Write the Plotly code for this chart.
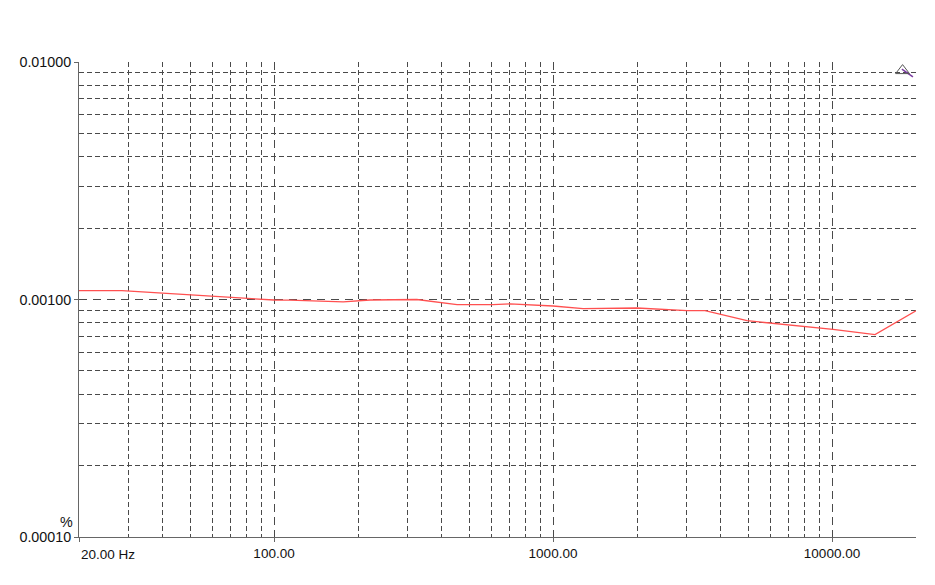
import plotly.graph_objects as go

# Data (frequency in Hz, THD+N in %)
freq = [20, 28.5, 100, 114, 177, 221, 325, 453, 609, 701, 1000, 1281, 2000, 3022, 3506, 4960, 10080, 14260, 20000]
thd = [0.001089, 0.00109, 0.000995, 0.000993, 0.000977, 0.000995, 0.001, 0.000951, 0.000951, 0.000958,
       0.000939, 0.000915, 0.000921, 0.000897, 0.000897, 0.000814, 0.000749, 0.000711, 0.000897]

x_tickvals = [20, 100, 1000, 10000]
x_ticktext = ["", "100.00", "1000.00", "10000.00"]
x_first_label = "20.00 Hz"
x_minor = [30, 40, 50, 60, 70, 80, 90, 200, 300, 400, 500, 600, 700, 800, 900,
           2000, 3000, 4000, 5000, 6000, 7000, 8000, 9000, 20000]
y_tickvals = [0.0001, 0.001, 0.01]
y_ticktext = ["0.00010", "0.00100", "0.01000"]
y_minor = [0.0002, 0.0003, 0.0004, 0.0005, 0.0006, 0.0007, 0.0008, 0.0009,
           0.002, 0.003, 0.004, 0.005, 0.006, 0.007, 0.008, 0.009]

cursor_x = [17900]
cursor_y = [0.0092]
cursor_tail_x = [17800, 19500]
cursor_tail_y = [0.00934, 0.00865]

GRID = "#4a4a4a"
XFONT = dict(family="Liberation Sans, Arial, sans-serif", size=13.5, color="#111111")
YFONT = dict(family="Liberation Sans, Arial, sans-serif", size=14.3, color="#111111")

fig = go.Figure()
fig.add_trace(go.Scatter(x=freq, y=thd, mode="lines",
                         line=dict(color="#ff5050", width=1.3), showlegend=False,
                         hoverinfo="skip"))
fig.add_trace(go.Scatter(x=cursor_tail_x, y=cursor_tail_y, mode="lines",
                         line=dict(color="#7a3aa0", width=1.5), showlegend=False,
                         hoverinfo="skip"))
fig.add_trace(go.Scatter(x=cursor_x, y=cursor_y, mode="markers",
                         marker=dict(symbol="triangle-up-open", size=12,
                                     color="#555555", line=dict(width=1)),
                         showlegend=False, hoverinfo="skip"))

fig.update_xaxes(type="log", range=[1.30103, 4.30103],
                 tickmode="array", tickvals=x_tickvals, ticktext=x_ticktext,
                 showgrid=True, gridcolor=GRID, gridwidth=1, griddash="8px,5px",
                 minor=dict(tickmode="array", tickvals=x_minor, showgrid=True,
                            gridcolor=GRID, gridwidth=1, griddash="5px,3px"),
                 showline=True, linecolor="#666666", linewidth=1,
                 ticks="outside", ticklen=4, tickcolor="#666666",
                 zeroline=False, tickfont=XFONT, automargin=False)
fig.update_yaxes(type="log", range=[-4, -2],
                 tickmode="array", tickvals=y_tickvals, ticktext=y_ticktext,
                 showgrid=True, gridcolor=GRID, gridwidth=1, griddash="8px,6px",
                 minor=dict(tickmode="array", tickvals=y_minor, showgrid=True,
                            gridcolor=GRID, gridwidth=1, griddash="5px,3px"),
                 showline=True, linecolor="#666666", linewidth=1,
                 ticks="outside", ticklen=4, tickcolor="#666666",
                 zeroline=False, tickfont=YFONT, automargin=False)

fig.add_annotation(text=x_first_label, xref="x", yref="paper", x=1.30103, y=0,
                   xanchor="left", yanchor="top", xshift=0, yshift=-8,
                   showarrow=False, font=XFONT)
fig.add_annotation(text="%", xref="paper", yref="paper", x=0, y=0,
                   xanchor="right", yanchor="bottom", xshift=-4, yshift=5,
                   showarrow=False, font=YFONT)

# page body has an 8px margin, so the figure is offset by 8px
fig.update_layout(width=927, height=577, plot_bgcolor="white", paper_bgcolor="white",
                  margin=dict(l=71, r=19, t=54, b=48), font=XFONT)

fig.write_html("out.html")
